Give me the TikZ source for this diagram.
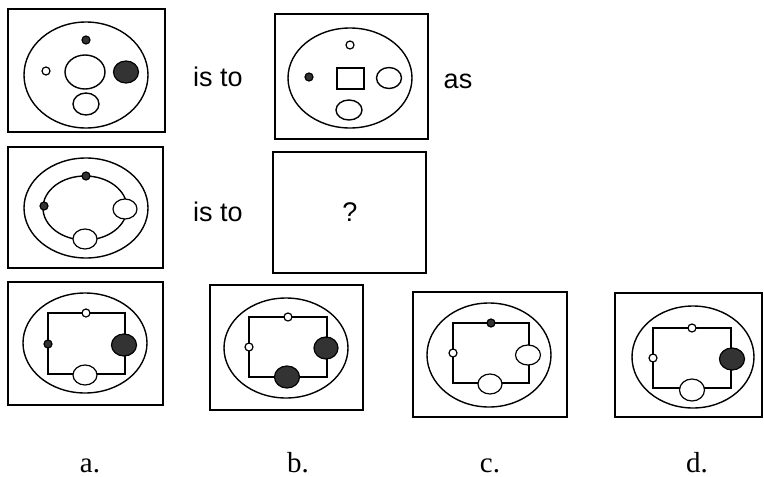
\documentclass[tikz,border=0pt]{standalone}
\usepackage{fontspec}
\setmainfont{Liberation Serif}
\newfontfamily\helv{Liberation Sans}
\usetikzlibrary{positioning}
\tikzset{
  frame/.style ={line width=1.6pt},
  ring/.style  ={line width=1.4pt},
  hole/.style  ={line width=1.2pt, fill=white},
  blob/.style  ={line width=1.2pt, fill=black!80},
  word/.style  ={font=\helv\fontsize{27}{30}\selectfont},
  tag/.style   ={anchor=base, font=\fontsize{29}{32}\selectfont},
}

\begin{document}
\begin{tikzpicture}[x=1pt,y=-1pt]
  \useasboundingbox (0,0) rectangle (764,477);

  % row 1, left
  \draw[frame] (8,9) rectangle (165,132);
  \draw[ring] (86,75) ellipse (62 and 53);
  \draw[blob] (86,40) circle (4);
  \draw[hole] (46,71) circle (4);
  \draw[ring] (85,72) ellipse (20 and 17);
  \draw[blob] (126,72) ellipse (12.5 and 11);
  \draw[ring] (86,104) ellipse (13 and 11);

  \node[word] (isto1) at (218,77) {is to};

  % row 1, right
  \draw[frame] (275,14) rectangle (428,139);
  \draw[ring] (350,78) ellipse (62 and 50);
  \draw[hole] (350,45) circle (4);
  \draw[blob] (309,77) circle (4);
  \draw[ring] (337,68) rectangle (364,89);
  \draw[ring] (389,78) ellipse (12.5 and 10.5);
  \draw[ring] (349,110) ellipse (13 and 10);

  \node[word] (as) at (458,81) {as};

  % row 2, left
  \draw[frame] (8,147) rectangle (163,268);
  \draw[ring] (86,208) ellipse (62 and 50);
  \draw[ring] (85,208) ellipse (42 and 32);
  \draw[blob] (86,176) circle (4);
  \draw[blob] (44,206) circle (4);
  \draw[hole] (125,209) ellipse (12 and 10);
  \draw[hole] (85,239) ellipse (12 and 10);

  \node[word] (isto2) at (218,212) {is to};

  % row 2, right
  \draw[frame] (273,152) rectangle (426,273);
  \node[word] (ask) at (350,212) {?};

  % answer a
  \draw[frame] (8,282) rectangle (163,405);
  \draw[ring] (85,343) ellipse (62 and 50);
  \draw[ring] (48,313) rectangle (125,374);
  \draw[hole] (86,313) circle (4);
  \draw[blob] (48,344) circle (4);
  \draw[blob] (124,345) ellipse (12.5 and 11);
  \draw[hole] (85,375) ellipse (12 and 10);

  % answer b
  \draw[frame] (210,285) rectangle (363,410);
  \draw[ring] (286,348) ellipse (62 and 50);
  \draw[ring] (249,317) rectangle (327,377);
  \draw[hole] (288,317) circle (4);
  \draw[hole] (249,347) circle (4);
  \draw[blob] (326,348) ellipse (12 and 11);
  \draw[blob] (287,377) ellipse (12.5 and 11);

  % answer c
  \draw[frame] (413,292) rectangle (567,417);
  \draw[ring] (489,355) ellipse (62 and 52);
  \draw[ring] (453,323) rectangle (529,383);
  \draw[blob] (491,323) circle (4);
  \draw[hole] (453,353) circle (4);
  \draw[hole] (528,355) ellipse (12.5 and 10);
  \draw[hole] (490,384) ellipse (12 and 10);

  % answer d
  \draw[frame] (615,293) rectangle (762,417);
  \draw[ring] (693,357) ellipse (61 and 51);
  \draw[ring] (653,328) rectangle (731,388);
  \draw[hole] (692,328) circle (4);
  \draw[hole] (653,358) circle (4);
  \draw[blob] (732,359) ellipse (12.5 and 11);
  \draw[hole] (692,390) ellipse (12.5 and 11);

  % labels
  \node[tag] (la) at (90,472) {a.};
  \node[tag] (lb) at (298,472) {b.};
  \node[tag] (lc) at (490,472) {c.};
  \node[tag] (ld) at (697,472) {d.};
\end{tikzpicture}
\end{document}
